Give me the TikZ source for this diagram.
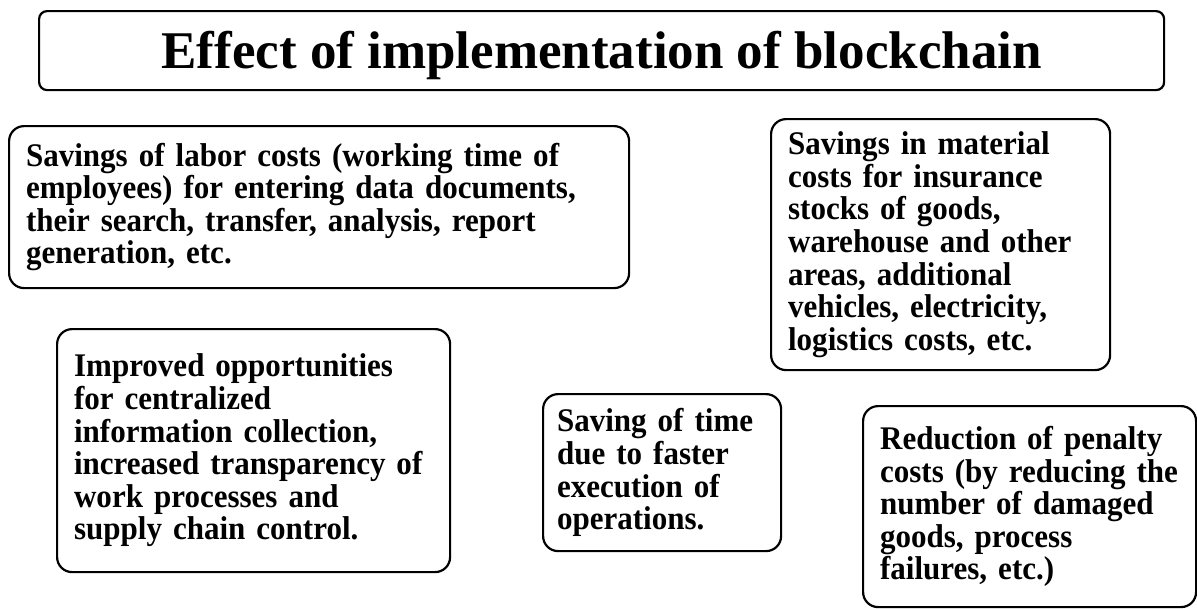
\documentclass[tikz,border=0pt]{standalone}
\usepackage{fontspec}
\setmainfont{Liberation Serif}
\newfontfamily\effectfont[FakeStretch=0.94]{Liberation Serif}
\begin{document}
\begin{tikzpicture}[x=1pt,y=-1pt,
  effectbox/.style={draw, line width=2.2pt, rounded corners=15pt, anchor=north west,
    align=left, inner xsep=17pt, inner ysep=0pt,
    font=\effectfont\fontsize{33}{32.6}\selectfont\bfseries},
  titlebox/.style={draw, line width=2.2pt, rounded corners=8pt, anchor=north west,
    inner sep=0pt, text height=48pt, text depth=12pt,
    font=\fontsize{53}{58}\selectfont\bfseries}]
\useasboundingbox (0,0) rectangle (1197,608);
\node[titlebox, minimum width=1125pt, minimum height=79pt] (title) at (38,10)
  {Effect of implementation of blockchain};
\node[effectbox, minimum width=620pt, minimum height=162pt, text width=586pt] (labor) at (8,125)
  {Savings of labor costs (working time of\\
   employees) for entering data documents,\\
   their search, transfer, analysis, report\\
   generation, etc.};
\node[effectbox, minimum width=339pt, minimum height=251pt, text width=305pt] (material) at (770,118)
  {Savings in material\\
   costs for insurance\\
   stocks of goods,\\
   warehouse and other\\
   areas, additional\\
   vehicles, electricity,\\
   logistics costs, etc.};
\node[effectbox, minimum width=393pt, minimum height=243pt, text width=359pt] (info) at (56,328)
  {Improved opportunities\\
   for centralized\\
   information collection,\\
   increased transparency of\\
   work processes and\\
   supply chain control.};
\node[effectbox, inner xsep=14pt, minimum width=238pt, minimum height=157pt, text width=210pt] (time) at (542,393)
  {Saving of time\\
   due to faster\\
   execution of\\
   operations.};
\node[effectbox, minimum width=333pt, minimum height=201pt, text width=299pt] (penalty) at (862,405)
  {Reduction of penalty\\
   costs (by reducing the\\
   number of damaged\\
   goods, process\\
   failures, etc.)};
\end{tikzpicture}
\end{document}
